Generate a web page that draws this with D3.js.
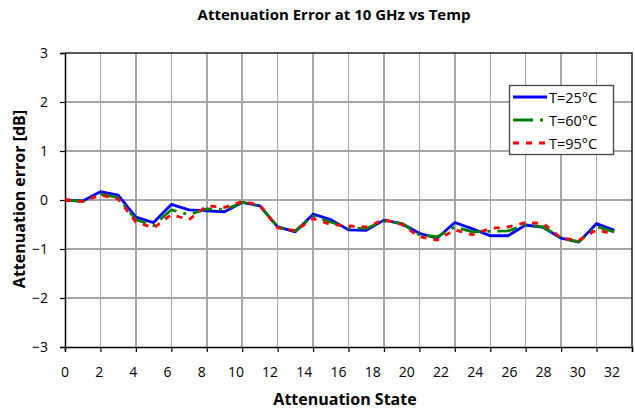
<!DOCTYPE html>
<html lang="en">
  <head>
    <meta charset="utf-8">
    <title>Attenuation Error at 10 GHz vs Temp</title>
    <style>
      body {margin: 0; background: #fff;}
      svg {display: block;}
      text {font-family: "Open Sans", sans-serif; fill: #000;}
      .grid line {stroke: #a6a6a6; stroke-width: 1.5; shape-rendering: crispEdges;}
      .tick-label {font-size: 14px;}
      .title {font-size: 15px; font-weight: bold;}
      .axis-title {font-size: 16px; font-weight: bold;}
      .legend text {font-size: 14.5px;}
    </style>
    <script src="https://d3js.org/d3.v7.min.js"></script>
  </head>
  <body>
    <script>
      // attenuation states 0..31
      var states = d3.range(0, 32);
      var xTicks = d3.range(0, 33, 2);
      var yTicks = [-3, -2, -1, 0, 1, 2, 3];

      var t25 = [0, -0.02, 0.17, 0.1, -0.35, -0.46, -0.09, -0.2, -0.22, -0.24, -0.05, -0.12,
                 -0.55, -0.65, -0.29, -0.4, -0.61, -0.62, -0.41, -0.48, -0.68, -0.78, -0.46, -0.59,
                 -0.73, -0.73, -0.51, -0.56, -0.78, -0.86, -0.48, -0.62];
      var t60 = [0, -0.03, 0.12, 0.05, -0.4, -0.52, -0.2, -0.3, -0.18, -0.2, -0.05, -0.12,
                 -0.55, -0.63, -0.33, -0.45, -0.58, -0.58, -0.43, -0.48, -0.71, -0.75, -0.55, -0.65,
                 -0.64, -0.63, -0.51, -0.55, -0.78, -0.85, -0.54, -0.65];
      var t95 = [0, -0.03, 0.1, 0.02, -0.45, -0.57, -0.3, -0.4, -0.12, -0.15, -0.03, -0.1,
                 -0.57, -0.63, -0.38, -0.5, -0.53, -0.55, -0.4, -0.5, -0.75, -0.82, -0.61, -0.71,
                 -0.58, -0.55, -0.46, -0.48, -0.78, -0.82, -0.61, -0.7];

      var seriesNames = ["T=25°C", "T=60°C", "T=95°C"];
      var seriesColors = ["#0000ff", "#008000", "#ff0000"];
      var seriesDash = [null, "20,7,3,7", "6,7"];
      var seriesData = [t25, t60, t95];

      var width = 635, height = 410;
      var plotLeft = 65, plotRight = 632, plotTop = 53, plotBottom = 347;

      var x = d3.scaleLinear().domain([0, 32]).range([plotLeft, plotRight]);
      // tick labels in the original sit slightly off the tick marks
      var xLabel = d3.scaleLinear().domain([0, 32]).range([plotLeft, 612]);
      var y = d3.scaleLinear().domain([-3, 3]).range([plotBottom, plotTop]);

      var svg = d3.select("body").append("svg")
        .attr("width", width)
        .attr("height", height);

      svg.append("text")
        .attr("class", "title")
        .attr("x", 334)
        .attr("y", 20)
        .attr("text-anchor", "middle")
        .text("Attenuation Error at 10 GHz vs Temp");

      // grid
      var grid = svg.append("g").attr("class", "grid");
      grid.selectAll(".gx")
        .data(xTicks.filter(function(d) { return d > 0 && d < 32; }))
        .enter().append("line")
        .attr("x1", function(d) { return x(d); })
        .attr("x2", function(d) { return x(d); })
        .attr("y1", plotTop)
        .attr("y2", plotBottom);
      grid.selectAll(".gy")
        .data(yTicks.filter(function(d) { return d > -3 && d < 3; }))
        .enter().append("line")
        .attr("x1", plotLeft)
        .attr("x2", plotRight)
        .attr("y1", function(d) { return y(d); })
        .attr("y2", function(d) { return y(d); });

      // plot frame (top & right)
      svg.append("path")
        .attr("d", "M" + plotLeft + "," + plotTop + "H" + plotRight + "V" + plotBottom)
        .attr("fill", "none")
        .attr("stroke", "#222")
        .attr("stroke-width", 1.5);

      // y axis
      var yAxis = svg.append("g")
        .attr("transform", "translate(" + plotLeft + ",0)")
        .call(d3.axisLeft(y).tickValues(yTicks).tickSize(5).tickPadding(12).tickFormat(d3.format("d")));
      yAxis.select(".domain").attr("stroke-width", 1.5);
      yAxis.selectAll(".tick line").attr("stroke-width", 1.2);
      yAxis.selectAll("text").attr("class", "tick-label").attr("font-family", null).attr("font-size", null);

      // x axis: ticks on the scale, labels from label scale
      var xAxis = svg.append("g")
        .attr("transform", "translate(0," + plotBottom + ")")
        .call(d3.axisBottom(x).tickValues(xTicks).tickSize(5).tickFormat(""));
      xAxis.select(".domain").attr("stroke-width", 1.5);
      xAxis.selectAll(".tick line").attr("stroke-width", 1.2);

      svg.append("g").selectAll("text")
        .data(xTicks)
        .enter().append("text")
        .attr("class", "tick-label")
        .attr("x", function(d) { return xLabel(d); })
        .attr("y", plotBottom + 30)
        .attr("text-anchor", "middle")
        .text(function(d) { return d; });

      // axis titles
      svg.append("text")
        .attr("class", "axis-title")
        .attr("x", 345)
        .attr("y", 405)
        .attr("text-anchor", "middle")
        .text("Attenuation State");

      svg.append("text")
        .attr("class", "axis-title")
        .attr("transform", "translate(25,199) rotate(-90)")
        .attr("text-anchor", "middle")
        .text("Attenuation error [dB]");

      // series lines
      var line = d3.line()
        .x(function(d, i) { return x(states[i]); })
        .y(function(d) { return y(d); });

      svg.append("g").selectAll("path")
        .data(seriesData)
        .enter().append("path")
        .attr("d", function(d) { return line(d); })
        .attr("fill", "none")
        .attr("stroke", function(d, i) { return seriesColors[i]; })
        .attr("stroke-width", 2.8)
        .attr("stroke-dasharray", function(d, i) { return seriesDash[i]; })
        .attr("stroke-linejoin", "round");

      // legend
      var legend = svg.append("g").attr("class", "legend");
      legend.append("rect")
        .attr("x", 509.5)
        .attr("y", 85.5)
        .attr("width", 104)
        .attr("height", 69)
        .attr("fill", "#fff")
        .attr("stroke", "#444")
        .attr("stroke-width", 1.3);

      var items = legend.selectAll(".item")
        .data(seriesNames)
        .enter().append("g")
        .attr("transform", function(d, i) { return "translate(0," + (97 + i * 23) + ")"; });
      items.append("line")
        .attr("x1", 513)
        .attr("x2", 547)
        .attr("stroke", function(d, i) { return seriesColors[i]; })
        .attr("stroke-width", 2.8)
        .attr("stroke-dasharray", function(d, i) { return seriesDash[i]; });
      items.append("text")
        .attr("x", 549)
        .attr("y", 5.5)
        .text(function(d) { return d; });
    </script>
  </body>
</html>
